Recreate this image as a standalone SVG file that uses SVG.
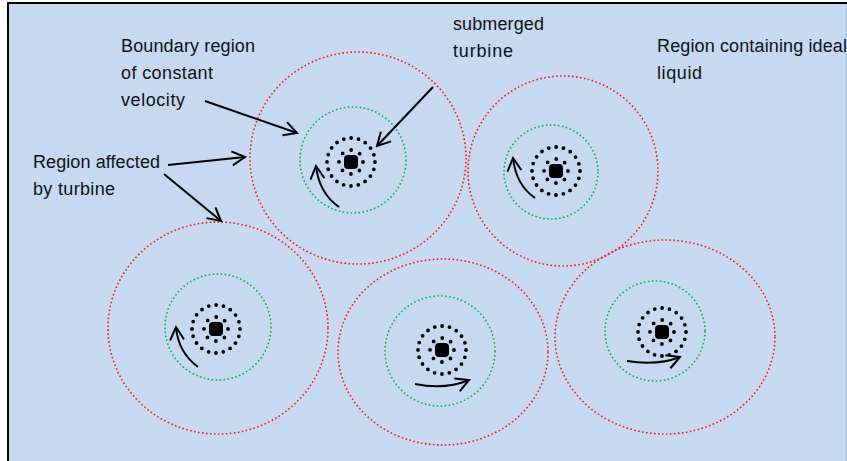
<svg xmlns="http://www.w3.org/2000/svg" width="847" height="461" viewBox="0 0 847 461">
<defs>
<style>
.lbl{font-family:"Liberation Sans",Arial,sans-serif;font-size:18px;fill:#111}
.red{fill:none;stroke:#FF1010;stroke-width:1.6;stroke-dasharray:1.6 2.4}
.grn{fill:none;stroke:#00B050;stroke-width:1.6;stroke-dasharray:1.6 2.4}
.dots{fill:none;stroke:#000;stroke-width:3.8;stroke-linecap:round}
.arr{fill:none;stroke:#000;stroke-width:2;marker-end:url(#ah)}
</style>
<marker id="ah" markerWidth="18" markerHeight="18" refX="14" refY="8" orient="auto" markerUnits="userSpaceOnUse" viewBox="0 0 18 16">
<path d="M1,1 L14,8 L1,15" fill="none" stroke="#000" stroke-width="2"/>
</marker>
</defs>
<rect x="0" y="0" width="847" height="461" fill="#fff"/>
<rect x="8" y="3" width="839" height="458" fill="#C6D9F1"/>
<path d="M8,461 V3 H847" fill="none" stroke="#000" stroke-width="2"/>
<line x1="846" y1="4" x2="846" y2="461" stroke="#A9C1E0" stroke-width="1"/>

<g id="cell-top-center">
<ellipse class="red" cx="358" cy="158" rx="108" ry="106"/>
<circle class="grn" cx="353" cy="160" r="53"/>
<circle class="dots" cx="351" cy="162" r="24" stroke-dasharray="0 7.5"/>
<circle class="dots" cx="351" cy="162" r="12" stroke-dasharray="0 9.4"/>
<rect x="344" y="155" width="14" height="14" rx="4" fill="#000"/>
<path class="arr" d="M339,207 Q319,193 316,166"/>
</g>

<g id="cell-top-right">
<ellipse class="red" cx="563" cy="171" rx="95" ry="95"/>
<circle class="grn" cx="551" cy="172" r="47"/>
<circle class="dots" cx="556" cy="171" r="24" stroke-dasharray="0 7.5"/>
<circle class="dots" cx="556" cy="171" r="12" stroke-dasharray="0 9.4"/>
<rect x="549" y="164" width="14" height="14" rx="4" fill="#000"/>
<path class="arr" d="M535,198 Q516,185 513,158"/>
</g>

<g id="cell-bottom-left">
<ellipse class="red" cx="218" cy="328" rx="110" ry="106"/>
<circle class="grn" cx="218" cy="327" r="53"/>
<circle class="dots" cx="216" cy="329" r="24" stroke-dasharray="0 7.5"/>
<circle class="dots" cx="216" cy="329" r="12" stroke-dasharray="0 9.4"/>
<rect x="209" y="322" width="14" height="14" rx="4" fill="#000"/>
<path class="arr" d="M198,367 Q178,352 176,327"/>
</g>

<g id="cell-bottom-middle">
<ellipse class="red" cx="443" cy="352" rx="105" ry="93"/>
<circle class="grn" cx="440" cy="351" r="55"/>
<circle class="dots" cx="442" cy="350" r="24" stroke-dasharray="0 7.5"/>
<circle class="dots" cx="442" cy="350" r="12" stroke-dasharray="0 9.4"/>
<rect x="435" y="343" width="14" height="14" rx="4" fill="#000"/>
<path class="arr" d="M415,384 Q445,390 469,380"/>
</g>

<g id="cell-bottom-right">
<ellipse class="red" cx="665" cy="337" rx="110" ry="97"/>
<circle class="grn" cx="655" cy="331" r="50"/>
<circle class="dots" cx="662" cy="332" r="24" stroke-dasharray="0 7.5"/>
<circle class="dots" cx="662" cy="332" r="12" stroke-dasharray="0 9.4"/>
<rect x="655" y="325" width="14" height="14" rx="4" fill="#000"/>
<path class="arr" d="M627,361 Q657,366 680,357"/>
</g>

<g id="label-boundary">
<text class="lbl" x="121" y="52" textLength="134">Boundary region</text>
<text class="lbl" x="121" y="79" textLength="92">of constant</text>
<text class="lbl" x="121" y="106" textLength="64">velocity</text>
</g>
<g id="label-affected">
<text class="lbl" x="33" y="168" textLength="127">Region affected</text>
<text class="lbl" x="33" y="195" textLength="82">by turbine</text>
</g>
<g id="label-submerged">
<text class="lbl" x="453" y="30" textLength="91">submerged</text>
<text class="lbl" x="453" y="57" textLength="60">turbine</text>
</g>
<g id="label-ideal">
<text class="lbl" x="657" y="52" textLength="190">Region containing ideal</text>
<text class="lbl" x="657" y="79" textLength="45">liquid</text>
</g>

<g id="connectors">
<line class="arr" x1="205" y1="101" x2="297" y2="133"/>
<line class="arr" x1="168" y1="165" x2="245" y2="157"/>
<line class="arr" x1="164" y1="174" x2="221" y2="221"/>
<line class="arr" x1="433" y1="87" x2="377" y2="146"/>
</g>
</svg>
